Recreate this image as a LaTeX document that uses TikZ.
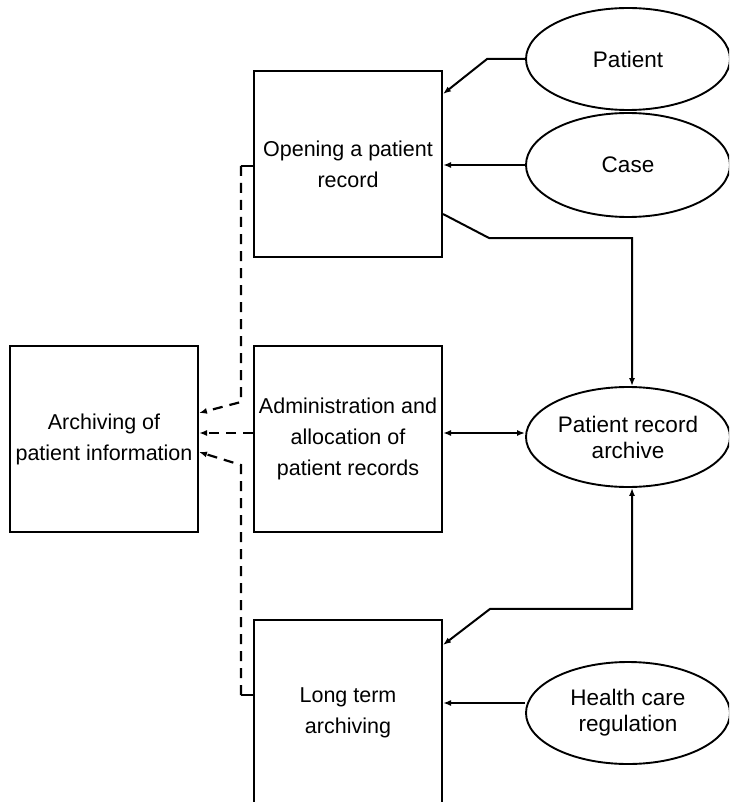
\documentclass[tikz,border=0pt]{standalone}
\usepackage{fontspec}
\setmainfont{Liberation Sans}
\usetikzlibrary{arrows.meta,shapes.geometric}
\tikzset{
  process/.style={draw,line width=2pt,minimum width=188pt,minimum height=186pt,
    inner sep=0pt,align=center,font=\fontsize{21.5}{31}\selectfont},
  store/.style={draw,ellipse,line width=1.9pt,minimum width=204pt,minimum height=102pt,
    inner sep=0pt,align=center,font=\fontsize{22.5}{26}\selectfont},
  flow/.style={line width=2pt,-{Latex[length=8pt,width=6pt]}},
  both/.style={line width=2pt,{Latex[length=8pt,width=6pt]}-{Latex[length=8pt,width=6pt]}},
  link/.style={line width=2.2pt,dash pattern=on 10pt off 7pt,-{Latex[length=8pt,width=6pt]}},
}
\begin{document}
\begin{tikzpicture}[x=1pt,y=-1pt]
  \useasboundingbox (0,0) rectangle (729,802);
  \clip (0,0) rectangle (729,802);
  % processes
  \node[process] (open) at (348,164) {Opening a patient\\record};
  \node[process] (admin) at (348,439) {Administration and\\allocation of\\patient records};
  \node[process] (arch) at (104,439) {Archiving of\\patient information};
  \node[process] (long) at (348,713) {Long term\\archiving};
  % stores
  \node[store] (patient) at (628,59) {Patient};
  \node[store,minimum height=104pt] (case) at (628,165) {Case};
  \node[store,minimum height=100pt] (archive) at (628,437) {Patient record\\archive};
  \node[store] (health) at (628,713) {Health care\\regulation};
  % flows
  \draw[flow] (patient.west) -- ++(-38,0) -- ([yshift=70pt]open.east);
  \draw[flow] (case.west) -- (case.west -| open.east);
  \draw[flow] ([yshift=-50pt]open.east) -- ++(46,24) -| ([xshift=4pt]archive.north);
  \draw[both] ([yshift=6pt]admin.east) -- ([yshift=4pt]archive.west);
  \draw[both] ([xshift=4pt]archive.south) -- ++(0,121) -- ++(-142,0)
    -- ([yshift=68pt]long.east);
  \draw[flow] ([yshift=10pt]health.west) -- ([yshift=10pt]long.east);
  % dashed links to archiving
  \draw[line width=2pt] ([yshift=-2pt]open.west) -- ++(-12,0) coordinate (t1);
  \draw[link] (t1) -- ++(0,236) -- ([yshift=26pt]arch.east);
  \draw[link] ([yshift=6pt]admin.west) -- ([yshift=6pt]arch.east);
  \draw[line width=2pt] ([yshift=18pt]long.west) -- ++(-12,0) coordinate (t2);
  \draw[link] (t2) -- ++(0,-230) -- ([yshift=-13pt]arch.east);
\end{tikzpicture}
\end{document}
